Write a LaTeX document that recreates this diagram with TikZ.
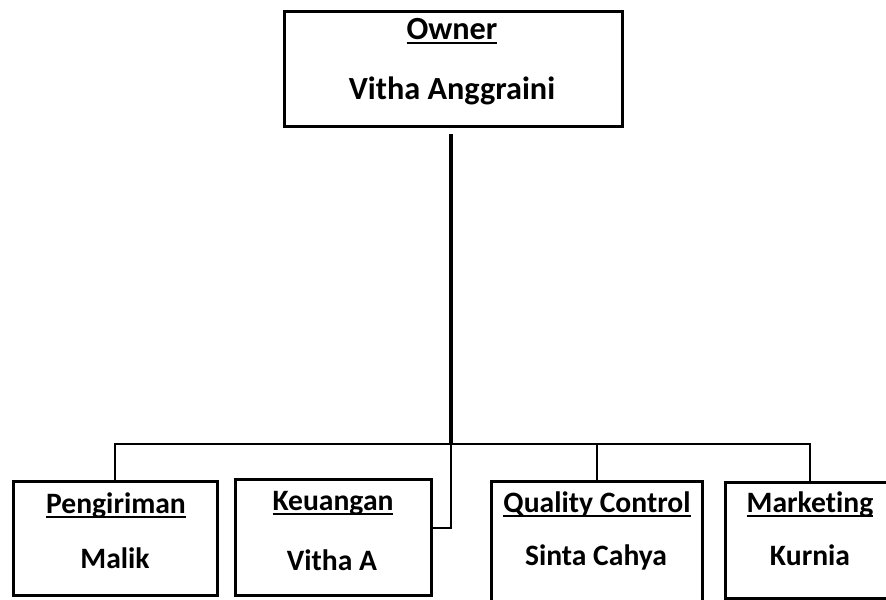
\documentclass[tikz,border=0pt]{standalone}
\usepackage{fontspec}
\setmainfont[RawFeature={-liga;-dlig;-clig}]{Carlito}
\usetikzlibrary{calc}
\tikzset{
  box/.style={draw, rectangle, line width=2.25pt, inner sep=0pt, outer sep=0pt},
  txt/.style={inner sep=0pt, outer sep=0pt, anchor=base, font=\fontsize{22.2}{26}\selectfont\bfseries},
  bigtxt/.style={txt, font=\fontsize{24.2}{28}\selectfont\bfseries},
  ulline/.style={line width=1.5pt},
  conn/.style={line width=1.5pt},
  trunk/.style={line width=2.8pt}
}
\newcommand{\ulnode}[4][]{%
  \node[txt,#1] (#2) at (#3) {#4};
  \draw[ulline] ($(#2.base west)+(0,4)$) -- ($(#2.base east)+(0,4)$);
}
\begin{document}
\begin{tikzpicture}[x=0.75pt, y=-0.75pt]
\useasboundingbox (0,0) rectangle (886,600);
\clip (0,0) rectangle (886,600);
\fill[white] (0,0) rectangle (886,600);
% boxes
\node[box, minimum width=338.5*0.75pt, minimum height=114.5*0.75pt] (own) at (453.25,68.75) {};
\node[box, minimum width=203.5*0.75pt, minimum height=113.5*0.75pt] (peng) at (115.25,538.25) {};
\node[box, minimum width=196.5*0.75pt, minimum height=116*0.75pt] (keu) at (333.25,537) {};
\node[box, minimum width=211*0.75pt, minimum height=139*0.75pt] (qc) at (596.5,550.5) {};
\node[box, minimum width=169*0.75pt, minimum height=116*0.75pt] (mkt) at (809.5,540) {};
% texts
\ulnode[bigtxt]{t1}{452,39}{Owner}
\node[bigtxt] (t2) at (452,99) {Vitha Anggraini};
\ulnode{t3}{116,513}{Pengiriman}
\node[txt] (t4) at (115,568) {Malik};
\ulnode{t5}{333,510}{Keuangan}
\node[txt] (t6) at (332,570) {Vitha A};
\ulnode{t7}{597,512}{Quality Control}
\node[txt] (t8) at (596,565) {Sinta Cahya};
\ulnode{t9}{810,512}{Marketing}
\node[txt] (t10) at (810,565) {Kurnia};
% connectors
\coordinate (top) at (451,134);
\coordinate (bus) at (451,443.5);
\coordinate (keuin) at ($(keu.east)+(0,-9)$);
\draw[trunk] (top) -- (bus);
\draw[conn] (peng.north) |- (bus) -| (mkt.north);
\draw[conn] (bus) -| (qc.north);
\draw[conn] (bus) |- (keuin);
\end{tikzpicture}
\end{document}
